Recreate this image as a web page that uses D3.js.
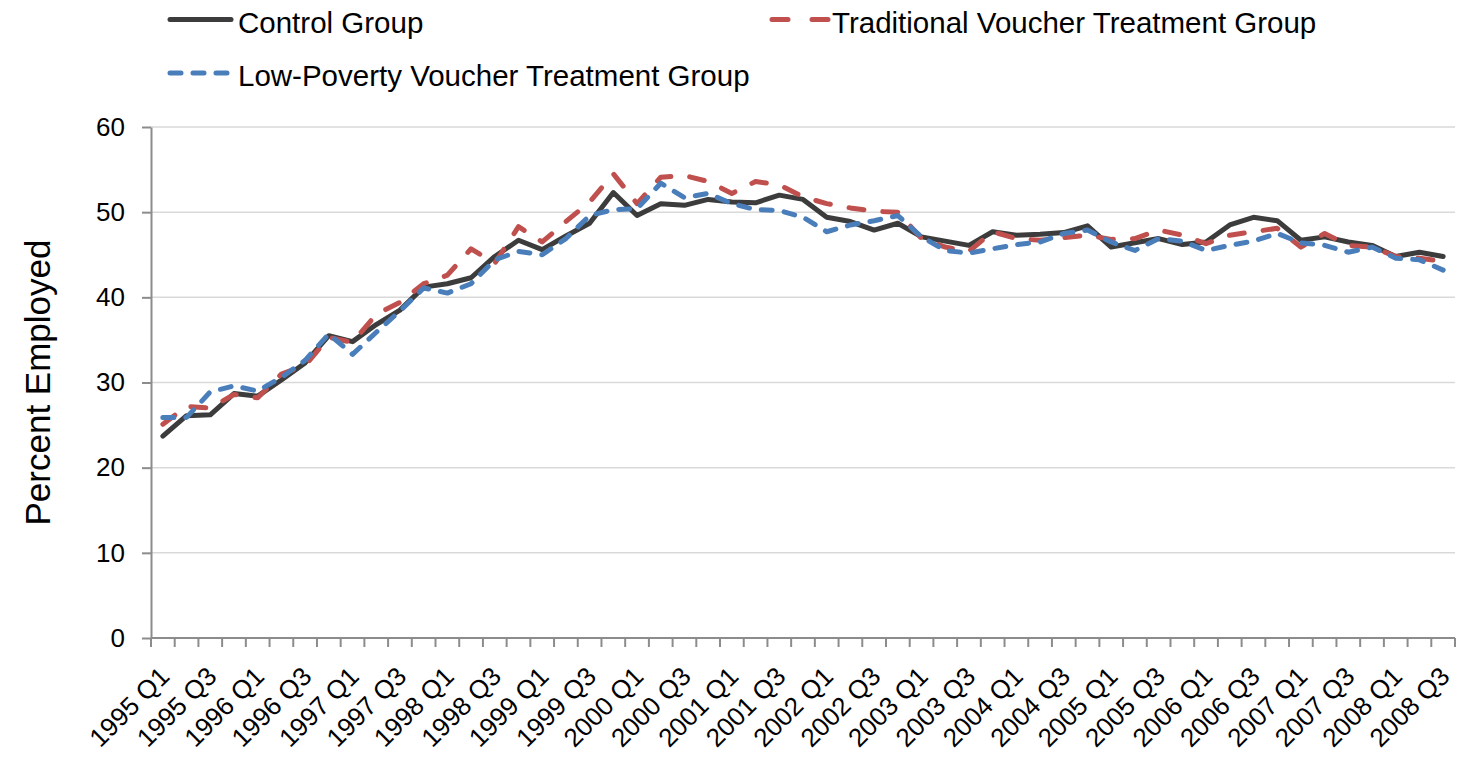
<!DOCTYPE html>
<html>
<head>
<meta charset="utf-8">
<script src="https://cdn.jsdelivr.net/npm/d3@7"></script>
<style>
body { margin: 0; background: #fff; }
svg text { font-family: "Liberation Sans", Arial, Helvetica, sans-serif; fill: #000; }
</style>
</head>
<body>
<div id="container"></div>
<script>
// Quarters on the x axis
var quarters = [
    '1995 Q1', '1995 Q2', '1995 Q3', '1995 Q4', '1996 Q1', '1996 Q2', '1996 Q3', '1996 Q4',
    '1997 Q1', '1997 Q2', '1997 Q3', '1997 Q4', '1998 Q1', '1998 Q2', '1998 Q3', '1998 Q4',
    '1999 Q1', '1999 Q2', '1999 Q3', '1999 Q4', '2000 Q1', '2000 Q2', '2000 Q3', '2000 Q4',
    '2001 Q1', '2001 Q2', '2001 Q3', '2001 Q4', '2002 Q1', '2002 Q2', '2002 Q3', '2002 Q4',
    '2003 Q1', '2003 Q2', '2003 Q3', '2003 Q4', '2004 Q1', '2004 Q2', '2004 Q3', '2004 Q4',
    '2005 Q1', '2005 Q2', '2005 Q3', '2005 Q4', '2006 Q1', '2006 Q2', '2006 Q3', '2006 Q4',
    '2007 Q1', '2007 Q2', '2007 Q3', '2007 Q4', '2008 Q1', '2008 Q2', '2008 Q3'
];

// Percent employed, one value per quarter
var controlGroup = [
    23.7, 26.1, 26.2, 28.7, 28.4, 30.3, 32.3, 35.5, 34.8, 36.8, 38.5, 41.2, 41.6, 42.3,
    44.8, 46.7, 45.6, 47.2, 48.7, 52.3, 49.6, 51.0, 50.8, 51.5, 51.2, 51.1, 52.0, 51.5,
    49.4, 48.9, 47.9, 48.7, 47.1, 46.6, 46.1, 47.7, 47.3, 47.4, 47.6, 48.4, 45.9, 46.4,
    46.9, 46.2, 46.5, 48.5, 49.4, 49.0, 46.7, 47.1, 46.5, 46.1, 44.8, 45.3, 44.8
];
var traditionalGroup = [
    25.1, 27.2, 27.0, 28.6, 28.2, 31.0, 32.0, 35.3, 34.7, 38.0, 39.4, 41.6, 42.6, 45.7,
    44.0, 48.3, 46.5, 48.9, 51.2, 54.5, 51.0, 54.1, 54.3, 53.6, 52.2, 53.6, 53.2, 51.8,
    51.0, 50.5, 50.1, 50.0, 46.9, 45.9, 45.4, 47.7, 46.9, 46.7, 47.0, 47.3, 46.8, 46.9,
    47.9, 47.3, 46.3, 47.3, 47.7, 48.1, 45.9, 47.5, 46.1, 45.9, 44.8, 44.6, 44.2
];
var lowPovertyGroup = [
    25.9, 25.9, 28.9, 29.6, 29.0, 30.6, 32.6, 35.7, 33.3, 35.9, 38.4, 41.1, 40.5, 41.6,
    44.4, 45.4, 45.0, 46.9, 49.6, 50.3, 50.4, 53.4, 51.7, 52.2, 51.0, 50.3, 50.2, 49.4,
    47.7, 48.5, 49.0, 49.6, 47.1, 45.5, 45.2, 45.7, 46.2, 46.5, 47.5, 47.9, 46.5, 45.5,
    46.9, 46.6, 45.5, 46.1, 46.6, 47.5, 46.4, 46.1, 45.3, 45.9, 44.6, 44.4, 43.2
];

var seriesNames = ['Control Group', 'Traditional Voucher Treatment Group', 'Low-Poverty Voucher Treatment Group'];
var yTicks = [0, 10, 20, 30, 40, 50, 60];

// Basic parameters
var WIDTH = 1480,
    HEIGHT = 762,
    LEFT = 151,
    RIGHT = 1455,
    TOP = 127,
    BOTTOM = 638;

var series = [
    { name: seriesNames[0], values: controlGroup, color: '#3c3c3c', dash: null },
    { name: seriesNames[1], values: traditionalGroup, color: '#c0504d', dash: '15,19' },
    { name: seriesNames[2], values: lowPovertyGroup, color: '#4a7ebb', dash: '11,12' }
];

var svg = d3.select('#container')
    .append('svg')
    .attr('width', WIDTH)
    .attr('height', HEIGHT);

var x = d3.scaleBand()
    .domain(quarters)
    .range([LEFT, RIGHT]);

var y = d3.scaleLinear()
    .domain([0, 60])
    .range([BOTTOM, TOP]);

var half = x.bandwidth() / 2;

// gridlines
svg.selectAll('.grid')
    .data(yTicks.slice(1))
    .enter()
    .append('line')
    .attr('class', 'grid')
    .attr('x1', LEFT)
    .attr('x2', RIGHT)
    .attr('y1', function(d) { return y(d); })
    .attr('y2', function(d) { return y(d); })
    .attr('stroke', '#d9d9d9')
    .attr('stroke-width', 1.5);

// y axis
var yAxis = svg.append('g')
    .attr('transform', 'translate(' + LEFT + ',0)')
    .call(d3.axisLeft(y).tickValues(yTicks).tickSize(9).tickSizeOuter(0).tickPadding(17));

yAxis.select('.domain').attr('stroke', '#8c8c8c').attr('stroke-width', 2);
yAxis.selectAll('.tick line').attr('stroke', '#8c8c8c').attr('stroke-width', 2);
yAxis.selectAll('.tick text')
    .style('font-size', '26px')
    .style('font-family', '"Liberation Sans", Arial, sans-serif')
    .attr('fill', '#000');

// x axis: ticks on the band edges, labels on every other quarter
var xAxis = svg.append('g');

xAxis.append('line')
    .attr('x1', LEFT)
    .attr('x2', RIGHT)
    .attr('y1', BOTTOM)
    .attr('y2', BOTTOM)
    .attr('stroke', '#8c8c8c')
    .attr('stroke-width', 2);

var edges = quarters.map(function(d) { return x(d); }).concat([RIGHT]);

xAxis.selectAll('.xtick')
    .data(edges)
    .enter()
    .append('line')
    .attr('class', 'xtick')
    .attr('x1', function(d) { return d; })
    .attr('x2', function(d) { return d; })
    .attr('y1', BOTTOM)
    .attr('y2', BOTTOM + 9)
    .attr('stroke', '#8c8c8c')
    .attr('stroke-width', 2);

xAxis.selectAll('.xlabel')
    .data(quarters.filter(function(d, i) { return i % 2 === 0; }))
    .enter()
    .append('text')
    .attr('class', 'xlabel')
    .attr('transform', function(d) {
        return 'translate(' + (x(d) + half + 8) + ',' + (BOTTOM + 40) + ') rotate(-45)';
    })
    .attr('text-anchor', 'end')
    .style('font-size', '26px')
    .text(function(d) { return d; });

// y axis title
svg.append('text')
    .attr('transform', 'translate(50,' + ((TOP + BOTTOM) / 2) + ') rotate(-90)')
    .attr('text-anchor', 'middle')
    .style('font-size', '35px')
    .text('Percent Employed');

// lines
var line = d3.line()
    .x(function(d, i) { return x(quarters[i]) + half; })
    .y(function(d) { return y(d); });

svg.selectAll('.series')
    .data(series)
    .enter()
    .append('path')
    .attr('class', 'series')
    .attr('d', function(d) { return line(d.values); })
    .attr('fill', 'none')
    .attr('stroke', function(d) { return d.color; })
    .attr('stroke-width', 5)
    .attr('stroke-linejoin', 'round')
    .attr('stroke-linecap', 'round')
    .attr('stroke-dasharray', function(d) { return d.dash; });

// legend
var legendPos = [
    { x: 168, y: 19.5 },
    { x: 770, y: 19.5 },
    { x: 168, y: 73 }
];

var legend = svg.selectAll('.legend')
    .data(series)
    .enter()
    .append('g')
    .attr('class', 'legend')
    .attr('transform', function(d, i) { return 'translate(' + legendPos[i].x + ',' + legendPos[i].y + ')'; });

legend.append('line')
    .attr('x1', 2)
    .attr('x2', function(d, i) { return i === 1 ? 58 : 63; })
    .attr('y1', 0)
    .attr('y2', 0)
    .attr('stroke', function(d) { return d.color; })
    .attr('stroke-width', 5)
    .attr('stroke-linecap', 'round')
    .attr('stroke-dasharray', function(d, i) { return i === 1 ? '16,24' : d.dash; });

legend.append('text')
    .attr('x', function(d, i) { return i === 1 ? 62 : 70; })
    .attr('y', 13)
    .style('font-size', '29.5px')
    .text(function(d) { return d.name; });
</script>
</body>
</html>
